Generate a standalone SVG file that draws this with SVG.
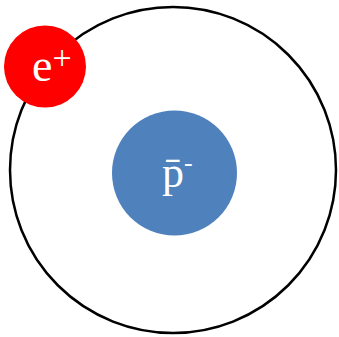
<svg xmlns="http://www.w3.org/2000/svg" width="339" height="337" viewBox="0 0 339 337">
<style>
.lbl{font-family:"Liberation Serif","Times New Roman",serif;fill:#ffffff}
</style>
<rect width="339" height="337" fill="#ffffff"/>
<g id="orbit"><circle cx="173" cy="170" r="163" fill="#ffffff" stroke="#000000" stroke-width="2.5"/></g>
<g id="connectors"></g>
<g id="antiproton">
<circle cx="174.5" cy="173" r="62.5" fill="#4F81BD"/>
<text class="lbl" x="162" y="187" font-size="44">p&#x304;<tspan font-size="26" dy="-16">-</tspan></text>
</g>
<g id="positron">
<circle cx="45" cy="66.5" r="41" fill="#FF0000"/>
<text class="lbl" x="32" y="81" font-size="46">e<tspan font-size="34" dy="-12" font-weight="normal">+</tspan></text>
</g>
</svg>
